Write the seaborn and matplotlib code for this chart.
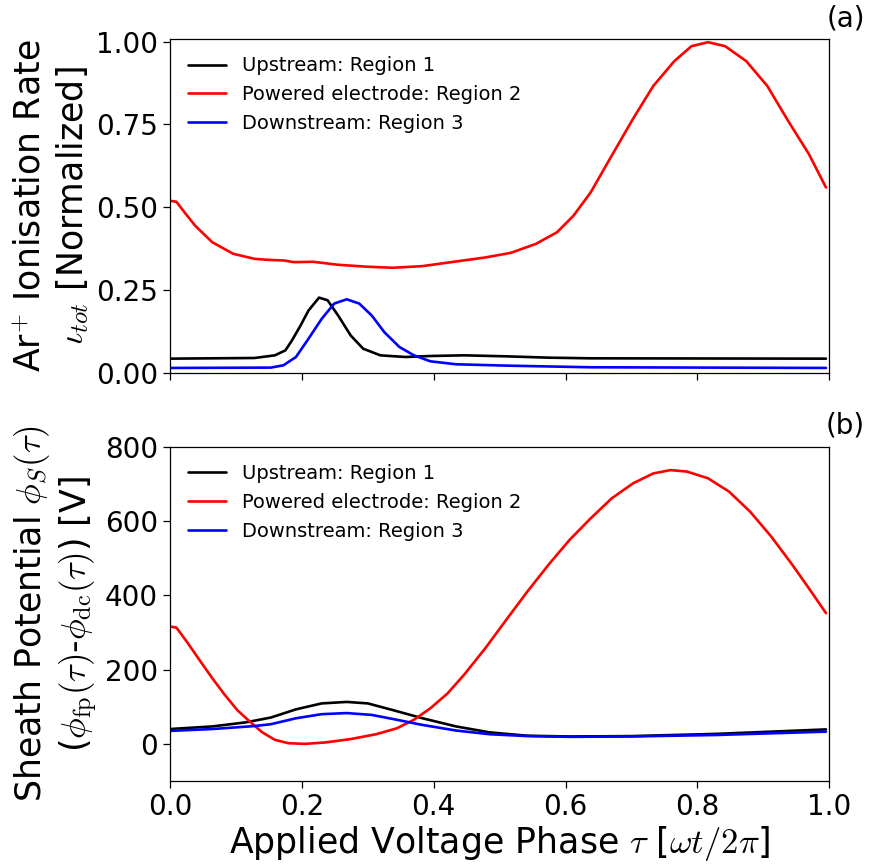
import numpy as np
import pandas as pd
import matplotlib
matplotlib.use("Agg")
import matplotlib.pyplot as plt
import seaborn as sns

# ---------------- data ----------------
# Panel (a): normalised ionisation rate
ion_up_x = [0.0, 0.128, 0.159, 0.175, 0.185, 0.198, 0.210, 0.226, 0.239, 0.255, 0.274,
            0.293, 0.319, 0.357, 0.395, 0.446, 0.51, 0.574, 0.638, 0.995]
ion_up_y = [0.044, 0.046, 0.054, 0.069, 0.099, 0.144, 0.189, 0.228, 0.220, 0.174, 0.114,
            0.074, 0.054, 0.049, 0.052, 0.054, 0.051, 0.047, 0.045, 0.044]

ion_pe_x = [0.0, 0.0096, 0.022, 0.038, 0.064, 0.096, 0.128, 0.147, 0.172, 0.188, 0.217,
            0.255, 0.30, 0.338, 0.383, 0.434, 0.478, 0.517, 0.555, 0.587, 0.612,
            0.638, 0.670, 0.702, 0.733, 0.765, 0.791, 0.816, 0.842, 0.874, 0.906,
            0.9375, 0.969, 0.995]
ion_pe_y = [0.520, 0.517, 0.485, 0.445, 0.395, 0.360, 0.345, 0.342, 0.340, 0.335, 0.336,
            0.327, 0.321, 0.318, 0.323, 0.337, 0.349, 0.363, 0.390, 0.425, 0.475,
            0.545, 0.656, 0.766, 0.866, 0.941, 0.986, 0.998, 0.986, 0.941, 0.866,
            0.761, 0.661, 0.560]

ion_dn_x = [0.0, 0.153, 0.172, 0.191, 0.210, 0.230, 0.249, 0.268, 0.287, 0.306, 0.325,
            0.348, 0.370, 0.395, 0.434, 0.51, 0.638, 0.995]
ion_dn_y = [0.016, 0.017, 0.024, 0.049, 0.104, 0.164, 0.210, 0.223, 0.210, 0.174, 0.124,
            0.079, 0.054, 0.036, 0.027, 0.023, 0.018, 0.016]

# Panel (b): sheath potential [V]
sp_up_x = [0.0, 0.064, 0.115, 0.153, 0.191, 0.23, 0.268, 0.30, 0.338, 0.383, 0.434,
           0.485, 0.542, 0.606, 0.70, 0.829, 0.995]
sp_up_y = [40, 47, 58, 71, 93, 109, 113, 109, 91, 69, 47,
           31, 22, 20, 21, 27, 39]

sp_pe_x = [0.0, 0.0096, 0.0255, 0.0446, 0.064, 0.083, 0.102, 0.121, 0.140, 0.159, 0.179,
           0.204, 0.236, 0.274, 0.3125, 0.344, 0.37, 0.395, 0.421, 0.446, 0.478,
           0.51, 0.542, 0.574, 0.606, 0.638, 0.670, 0.702, 0.733, 0.759, 0.784,
           0.816, 0.848, 0.880, 0.912, 0.944, 0.969, 0.995]
sp_pe_y = [316, 313, 275, 226, 177, 132, 91, 60, 31, 11, 2,
           0, 4, 13, 26, 42, 65, 96, 136, 186, 257,
           334, 410, 482, 549, 607, 661, 701, 728, 737, 733,
           715, 679, 625, 558, 482, 419, 352]

sp_dn_x = [0.0, 0.064, 0.128, 0.153, 0.191, 0.23, 0.268, 0.306, 0.344, 0.383, 0.434,
           0.485, 0.542, 0.606, 0.70, 0.829, 0.995]
sp_dn_y = [35, 40, 48, 53, 69, 80, 83, 78, 65, 51, 36,
           26, 21, 19, 20, 24, 33]

labels = ["Upstream: Region 1", "Powered electrode: Region 2", "Downstream: Region 3"]
colors = ["black", "red", "blue"]

xticks = [0.0, 0.2, 0.4, 0.6, 0.8, 1.0]
yticks_a = [0.0, 0.25, 0.5, 0.75, 1.0]
yticks_b = [0, 200, 400, 600, 800]

# ---------------- style ----------------
sns.set_style("ticks")
plt.rcParams["font.family"] = ["DejaVu Sans"]
plt.rcParams["mathtext.fontset"] = "cm"
plt.rcParams["axes.edgecolor"] = "black"
plt.rcParams["text.color"] = "black"
plt.rcParams["axes.labelcolor"] = "black"
plt.rcParams["xtick.color"] = "black"
plt.rcParams["ytick.color"] = "black"
plt.rcParams["xtick.labelcolor"] = "black"
plt.rcParams["ytick.labelcolor"] = "black"
plt.rcParams["axes.linewidth"] = 0.9

fig = plt.figure(figsize=(8.72, 8.64), dpi=100)
ax1 = fig.add_axes([0.195, 0.568, 0.756, 0.387])
ax2 = fig.add_axes([0.195, 0.096, 0.756, 0.387])

lw = 1.9
for xs, ys, lab, c in zip([ion_up_x, ion_pe_x, ion_dn_x],
                          [ion_up_y, ion_pe_y, ion_dn_y], labels, colors):
    sns.lineplot(x=xs, y=ys, ax=ax1, color=c, label=lab, linewidth=lw, sort=False)
for xs, ys, lab, c in zip([sp_up_x, sp_pe_x, sp_dn_x],
                          [sp_up_y, sp_pe_y, sp_dn_y], labels, colors):
    sns.lineplot(x=xs, y=ys, ax=ax2, color=c, label=lab, linewidth=lw, sort=False)

tick_fs = 20
label_fs = 25
for ax in (ax1, ax2):
    ax.set_xlim(0, 1)
    ax.set_xticks(xticks)
    ax.tick_params(labelsize=tick_fs, length=5, width=0.9, direction="out",
                   colors="black")
    leg = ax.legend(loc="upper left", frameon=False, fontsize=14)
    for t in leg.get_texts():
        t.set_color("black")

ax1.set_ylim(0, 1.008)
ax1.set_yticks(yticks_a)
ax1.set_yticklabels([f"{v:.2f}" for v in yticks_a])
ax1.set_xticklabels([])
ax1.set_ylabel("Ar$^{+}$ Ionisation Rate\n$\\iota_{tot}$ [Normalized]", fontsize=label_fs,
               color="black")

ax2.set_ylim(-100, 800)
ax2.set_yticks(yticks_b)
ax2.set_xticklabels([f"{v:.1f}" for v in xticks])
ax2.set_ylabel("Sheath Potential $\\phi_S(\\tau)$\n($\\phi_{\\rm fp}(\\tau)$-$\\phi_{\\rm dc}(\\tau)$) [V]",
               fontsize=label_fs, color="black")
ax2.set_xlabel("Applied Voltage Phase $\\tau$ [$\\omega t/2\\pi$]", fontsize=label_fs,
               color="black", labelpad=2)

fig.text(0.992, 0.979, "(a)", ha="right", va="center", fontsize=20, color="black")
fig.text(0.992, 0.508, "(b)", ha="right", va="center", fontsize=20, color="black")

fig.savefig("out.png", dpi=100)
